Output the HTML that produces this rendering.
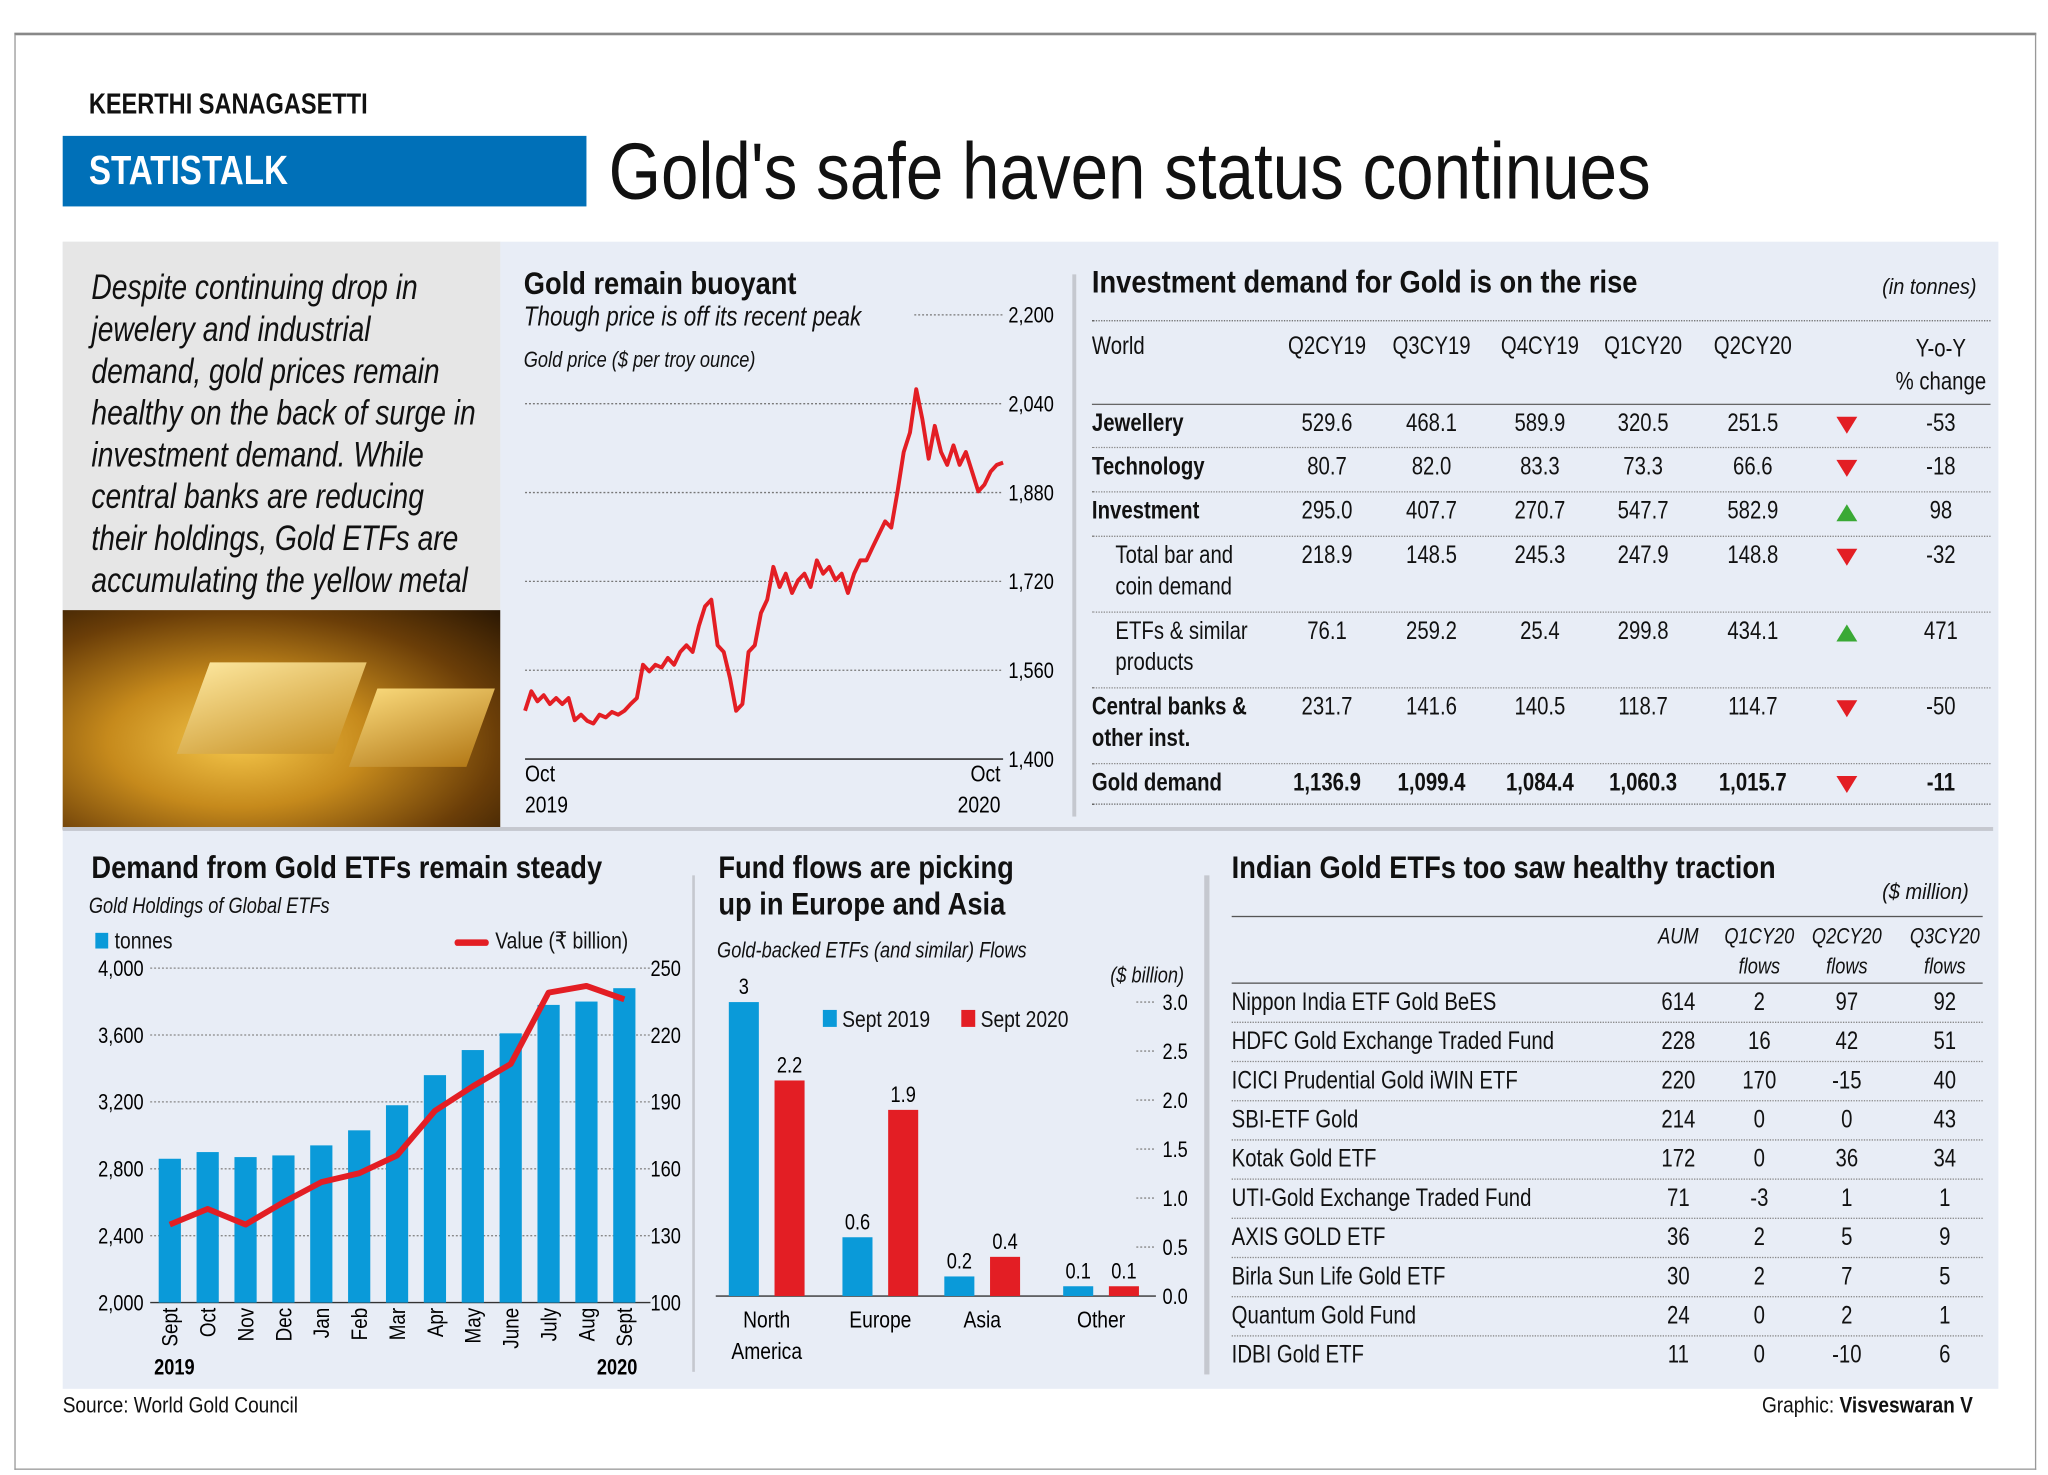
<!DOCTYPE html>
<html><head><meta charset="utf-8">
<style>
html,body{margin:0;padding:0;background:#fff;}
body{width:2048px;height:1475px;overflow:hidden;}
#root{position:absolute;left:0;top:0;width:1568px;height:1129px;transform:scale(1.30612,1.3065);transform-origin:0 0;font-family:"Liberation Sans",sans-serif;color:#111;}
.a{position:absolute;white-space:nowrap;}
.t{transform:scaleX(.82);transform-origin:0 0;}
.th{transform:scaleX(.87);transform-origin:0 0;}
.tu{transform:scaleX(.9);transform-origin:0 0;}
.tc{transform:scaleX(.82);transform-origin:50% 0;}
.b{font-weight:bold;}
.i{font-style:italic;}
</style></head><body>
<div id="root">
<div class="a" style="left:11px;top:25px;width:1546px;height:1097px;border:1px solid #999;border-top:2px solid #888;"></div>
<div class="a b t" style="left:68px;top:67px;font-size:22px;">KEERTHI SANAGASETTI</div>
<div class="a" style="left:48px;top:104px;width:401px;height:54px;background:#0070b8;"></div>
<div class="a b t" style="left:68px;top:113px;font-size:31px;color:#fff;">STATISTALK</div>
<div class="a" style="left:466px;top:96px;font-size:61px;transform:scaleX(.845);transform-origin:0 0;">Gold's safe haven status continues</div>
<div class="a" style="left:48px;top:185px;width:1482px;height:878px;background:#e8edf6;"></div>
<div class="a" style="left:48px;top:185px;width:335px;height:282px;background:#e6e6e6;"></div>
<div class="a i" style="left:70px;top:204px;font-size:27px;line-height:32px;transform:scaleX(.8);transform-origin:0 0;">Despite continuing drop in<br>jewelery and industrial<br>demand, gold prices remain<br>healthy on the back of surge in<br>investment demand. While<br>central banks are reducing<br>their holdings, Gold ETFs are<br>accumulating the yellow metal</div>
<div class="a" style="left:48px;top:467px;width:335px;height:168px;background:radial-gradient(ellipse at 40% 60%,#f4c64a 0%,#c68a1c 35%,#6b3e08 70%,#2a1703 100%);overflow:hidden;">
<div style="position:absolute;left:100px;top:40px;width:120px;height:70px;background:linear-gradient(160deg,#fbe49a,#c99327);transform:skewX(-20deg);"></div>
<div style="position:absolute;left:230px;top:60px;width:90px;height:60px;background:linear-gradient(160deg,#f7d678,#b47a18);transform:skewX(-20deg);"></div>
</div>
<div class="a b th" style="left:401px;top:204px;font-size:24px;">Gold remain buoyant</div>
<div class="a i t" style="left:401px;top:231px;font-size:21px;">Though price is off its recent peak</div>
<div class="a i t" style="left:401px;top:266px;font-size:17px;">Gold price ($ per troy ounce)</div>
<svg class="a" id="priceSvg" style="left:0;top:0;" width="1568" height="1129"></svg>
<div class="a" style="left:821px;top:210px;width:3px;height:415px;background:#c5c8cf;"></div>
<div class="a b th" style="left:836px;top:203px;font-size:24px;">Investment demand for Gold is on the rise</div>
<div class="a i tu" style="left:1441px;top:210px;font-size:17px;">(in tonnes)</div>
<div id="invTable"></div>
<div class="a" style="left:48px;top:633px;width:1478px;height:3px;background:#c5c8cf;"></div>
<div class="a b th" style="left:70px;top:651px;font-size:24px;">Demand from Gold ETFs remain steady</div>
<div class="a i t" style="left:68px;top:684px;font-size:17px;">Gold Holdings of Global ETFs</div>
<div class="a t" style="left:73px;top:710px;font-size:18px;"><span style="display:inline-block;width:12px;height:12px;background:#0a9ad9;margin-right:6px;"></span>tonnes</div>
<div class="a t" style="left:348px;top:710px;font-size:18px;"><span style="display:inline-block;width:32px;height:5px;background:#e31e24;border-radius:3px;vertical-align:middle;margin-right:6px;"></span>Value (₹ billion)</div>
<svg class="a" id="etfSvg" style="left:0;top:0;" width="1568" height="1129"></svg>
<div class="a" style="left:530px;top:670px;width:2px;height:380px;background:#c5c8cf;"></div>
<div class="a b th" style="left:550px;top:651px;font-size:24px;line-height:28px;">Fund flows are picking<br>up in Europe and Asia</div>
<div class="a i t" style="left:549px;top:718px;font-size:17px;">Gold-backed ETFs (and similar) Flows</div>
<div class="a i t" style="left:850px;top:737px;font-size:17px;">($ billion)</div>
<div class="a t" style="left:630px;top:770px;font-size:18px;"><span style="display:inline-block;width:13px;height:13px;background:#0a9ad9;margin-right:5px;"></span>Sept 2019</div>
<div class="a t" style="left:736px;top:770px;font-size:18px;"><span style="display:inline-block;width:13px;height:13px;background:#e31e24;margin-right:5px;"></span>Sept 2020</div>
<svg class="a" id="flowSvg" style="left:0;top:0;" width="1568" height="1129"></svg>
<div class="a" style="left:922px;top:670px;width:4px;height:382px;background:#c5c8cf;"></div>
<div class="a b th" style="left:943px;top:651px;font-size:24px;">Indian Gold ETFs too saw healthy traction</div>
<div class="a i tu" style="left:1441px;top:673px;font-size:17px;">($ million)</div>
<div id="indTable"></div>
<div class="a" style="left:48px;top:1066px;font-size:17px;transform:scaleX(.86);transform-origin:0 0;">Source: World Gold Council</div>
<div class="a" style="left:1349px;top:1066px;font-size:17px;transform:scaleX(.86);transform-origin:0 0;">Graphic: <b>Visveswaran V</b></div>
</div>
<script>
const priceTicks=[1400,1560,1720,1880,2040,2200];
const priceValues=[1487,1522,1504,1515,1499,1510,1499,1510,1470,1480,1469,1464,1480,1475,1485,1480,1487,1499,1510,1570,1558,1570,1565,1582,1570,1593,1605,1593,1640,1675,1687,1605,1593,1546,1487,1499,1593,1605,1663,1687,1746,1710,1734,1699,1722,1734,1710,1758,1734,1746,1722,1734,1699,1734,1758,1758,1782,1805,1828,1817,1882,1953,1988,2066,2012,1941,2000,1953,1930,1965,1930,1953,1918,1882,1894,1918,1930,1934];
const priceLabels=[["Oct","2019"],["Oct","2020"]];
const etfMonths=["Sept","Oct","Nov","Dec","Jan","Feb","Mar","Apr","May","June","July","Aug","Sept"];
const etfTonnes=[2860,2900,2870,2880,2940,3030,3180,3360,3510,3610,3780,3800,3880];
const etfValue=[135,142,135,145,154,158,166,186,197,207,239,242,236];
const etfLeftTicks=[2000,2400,2800,3200,3600,4000];
const etfRightTicks=[100,130,160,190,220,250];
const flowRegions=[["North","America"],["Europe"],["Asia"],["Other"]];
const flow2019=[3,0.6,0.2,0.1];
const flow2020=[2.2,1.9,0.4,0.1];
const flowTicks=["0.0","0.5","1.0","1.5","2.0","2.5","3.0"];
const invCols=["Q2CY19","Q3CY19","Q4CY19","Q1CY20","Q2CY20"];
const invRows=[
["Jewellery",["529.6","468.1","589.9","320.5","251.5"],"-53",1,0],
["Technology",["80.7","82.0","83.3","73.3","66.6"],"-18",1,0],
["Investment",["295.0","407.7","270.7","547.7","582.9"],"98",1,1],
["Total bar and<br>coin demand",["218.9","148.5","245.3","247.9","148.8"],"-32",0,0],
["ETFs &amp; similar<br>products",["76.1","259.2","25.4","299.8","434.1"],"471",0,1],
["Central banks &amp;<br>other inst.",["231.7","141.6","140.5","118.7","114.7"],"-50",1,0],
["Gold demand",["1,136.9","1,099.4","1,084.4","1,060.3","1,015.7"],"-11",2,0]];
const indNames=["Nippon India ETF Gold BeES","HDFC Gold Exchange Traded Fund","ICICI Prudential Gold iWIN ETF","SBI-ETF Gold","Kotak Gold ETF","UTI-Gold Exchange Traded Fund","AXIS GOLD ETF","Birla Sun Life Gold ETF","Quantum Gold Fund","IDBI Gold ETF"];
const indAUM=[614,228,220,214,172,71,36,30,24,11];
const indQ1=[2,16,170,0,0,-3,2,2,0,0];
const indQ2=[97,42,-15,0,36,1,5,7,2,-10];
const indQ3=[92,51,40,43,34,1,9,5,1,6];

const NS="http://www.w3.org/2000/svg";
function mk(svg,tag,attrs,txt){const e=document.createElementNS(NS,tag);for(const k in attrs)e.setAttribute(k,attrs[k]);if(txt!==undefined)e.textContent=txt;svg.appendChild(e);return e;}
const FF='"Liberation Sans",sans-serif';
function tx(svg,x,y,str,attrs,rot){const a=Object.assign({x:0,y:0,'font-family':FF,transform:`translate(${x},${y})`+(rot?` rotate(${rot})`:'')+' scale(0.82,1)'},attrs);return mk(svg,'text',a,str);}

(function(){const s=document.getElementById('priceSvg');
const x0=402,x1=768,y=v=>581-(v-1400)/800*340;
priceTicks.forEach((t,i)=>{const yy=y(t);
const l=mk(s,'line',{x1:i==0?402:(i==5?700:402),x2:768,y1:yy,y2:yy,stroke:i==0?'#333':'#777','stroke-width':i==0?1.2:1,'stroke-dasharray':i==0?'none':'1.5,1.5'});


const t2=tx(s,772,yy+6,t.toLocaleString('en-US'),{'font-size':17});

});
const n=priceValues.length;const pts=priceValues.map((v,i)=>(x0+i*(x1-x0)/(n-1)).toFixed(1)+','+y(v).toFixed(1)).join(' ');
const pl=mk(s,'polyline',{points:pts,fill:'none',stroke:'#e31e24','stroke-width':3,'stroke-linejoin':'round'});


priceLabels.forEach((lb,i)=>{const xx=i==0?402:766;const a=i==0?'start':'end';
lb.forEach((w,j)=>{const t=tx(s,xx,598+j*24,w,{'font-size':18,'text-anchor':a});

});});
})();

(function(){const d=document.getElementById('invTable');let h='';
const colX=[1016,1096,1179,1258,1342];
h+='<div class="a t" style="left:836px;top:255px;font-size:19px;">World</div>';
invCols.forEach((c,i)=>{h+='<div class="a tc" style="left:'+(colX[i]-40)+'px;width:80px;text-align:center;top:255px;font-size:19px;">'+c+'</div>';});
h+='<div class="a tc" style="left:1436px;width:100px;text-align:center;top:255px;font-size:19px;line-height:25px;">Y-o-Y<br>% change</div>';
h+='<div class="a" style="left:836px;top:245px;width:688px;border-top:1px dotted #666;"></div>';
h+='<div class="a" style="left:836px;top:309px;width:688px;border-top:1px solid #666;"></div>';
const tops=[313,346,380,414,472,530,588];const hs=[33,34,34,58,58,58,32];
invRows.forEach((r,i)=>{const t=tops[i];const bold=r[3]>=1;const ind=r[3]==0?18:0;
h+='<div class="a t" style="left:'+(836+ind)+'px;top:'+t+'px;font-size:19px;line-height:24px;'+(bold?'font-weight:bold;':'')+'">'+r[0]+'</div>';
r[1].forEach((v,j)=>{h+='<div class="a tc" style="left:'+(colX[j]-45)+'px;width:90px;text-align:center;top:'+t+'px;font-size:19px;line-height:24px;'+(r[3]==2?'font-weight:bold;':'')+'">'+v+'</div>';});
h+= r[4]?'<div class="a" style="left:1406px;top:'+(t+6)+'px;width:0;height:0;border-left:8px solid transparent;border-right:8px solid transparent;border-bottom:13px solid #3aa935;"></div>':'<div class="a" style="left:1406px;top:'+(t+6)+'px;width:0;height:0;border-left:8px solid transparent;border-right:8px solid transparent;border-top:13px solid #e31e24;"></div>';
h+='<div class="a tc" style="left:1446px;width:80px;text-align:center;top:'+t+'px;font-size:19px;line-height:24px;'+(r[3]==2?'font-weight:bold;':'')+'">'+r[2]+'</div>';
if(i<6)h+='<div class="a" style="left:836px;top:'+(t+hs[i]-4)+'px;width:688px;border-top:1px dotted #888;"></div>';
});
h+='<div class="a" style="left:836px;top:615px;width:688px;border-top:1px dotted #666;"></div>';
d.innerHTML=h;})();

(function(){const s=document.getElementById('etfSvg');
const yl=v=>997-(v-2000)/2000*256, yr=v=>997-(v-100)/150*256;
etfLeftTicks.forEach((t,i)=>{const yy=yl(t);
const l=mk(s,'line',{x1:115,x2:498,y1:yy,y2:yy,stroke:i==0?'#333':'#888','stroke-dasharray':i==0?'none':'1.5,1.5'});


const a=tx(s,110,yy+6,t.toLocaleString('en-US'),{'font-size':17,'text-anchor':'end'});


const b=tx(s,498,yr(etfRightTicks[i])+6,String(etfRightTicks[i]),{'font-size':17});

});
const cx=i=>130+i*29.0;
etfTonnes.forEach((v,i)=>{const r=mk(s,'rect',{x:cx(i)-8.5,y:yl(v),width:17,height:997-yl(v),fill:'#0a9ad9'});


const t=mk(s,'text',{x:0,y:0,'font-size':17,'font-family':FF,'text-anchor':'end',transform:`translate(${cx(i)+6},1001) rotate(-90) scale(0.85,1)`},etfMonths[i]);

});
const pl=mk(s,'polyline',{points:etfValue.map((v,i)=>cx(i)+','+yr(v)).join(' '),fill:'none',stroke:'#e31e24','stroke-width':4.5,'stroke-linejoin':'round'});


const y1=tx(s,118,1052,'2019',{'font-size':17,'font-weight':'bold'});


const y2=tx(s,488,1052,'2020',{'font-size':17,'font-weight':'bold','text-anchor':'end'});


})();

(function(){const s=document.getElementById('flowSvg');
const y=v=>992-v/3*225;
flowTicks.forEach((t,i)=>{const yy=y(+t);
const l=mk(s,'line',{x1:i==0?548:870,x2:885,y1:yy,y2:yy,stroke:i==0?'#333':'#888','stroke-dasharray':i==0?'none':'1.5,1.5'});


const t2=tx(s,890,yy+6,t,{'font-size':17});

});
const gx=[587,674,752,843];
flowRegions.forEach((r,i)=>{[[flow2019[i],'#0a9ad9',-29],[flow2020[i],'#e31e24',6]].forEach(([v,c,o])=>{
const b=mk(s,'rect',{x:gx[i]+o,y:y(v),width:23,height:992-y(v),fill:c});


const t=tx(s,gx[i]+o+11.5,y(v)-6,String(v),{'font-size':17,'text-anchor':'middle'});

});
r.forEach((w,j)=>{const t=tx(s,gx[i],1016+j*24,w,{'font-size':18,'text-anchor':'middle'});

});});
})();

(function(){const d=document.getElementById('indTable');let h='';
const cols=[1285,1347,1414,1489];
[['AUM',''],['Q1CY20','flows'],['Q2CY20','flows'],['Q3CY20','flows']].forEach((c,i)=>{h+='<div class="a i tc" style="left:'+(cols[i]-40)+'px;width:80px;text-align:center;top:705px;font-size:17px;line-height:23px;">'+c[0]+'<br>'+c[1]+'</div>';});
h+='<div class="a" style="left:943px;top:701px;width:575px;border-top:1px solid #555;"></div>';
h+='<div class="a" style="left:943px;top:752px;width:575px;border-top:1px solid #555;"></div>';
indNames.forEach((n,i)=>{const t=757+i*30;
h+='<div class="a t" style="left:943px;top:'+t+'px;font-size:19px;">'+n+'</div>';
[indAUM[i],indQ1[i],indQ2[i],indQ3[i]].forEach((v,j)=>{h+='<div class="a tc" style="left:'+(cols[j]-40)+'px;width:80px;text-align:center;top:'+t+'px;font-size:19px;">'+v+'</div>';});
if(i<9)h+='<div class="a" style="left:943px;top:'+(t+25)+'px;width:575px;border-top:1px dotted #888;"></div>';});
d.innerHTML=h;})();
</script>
</body></html>
